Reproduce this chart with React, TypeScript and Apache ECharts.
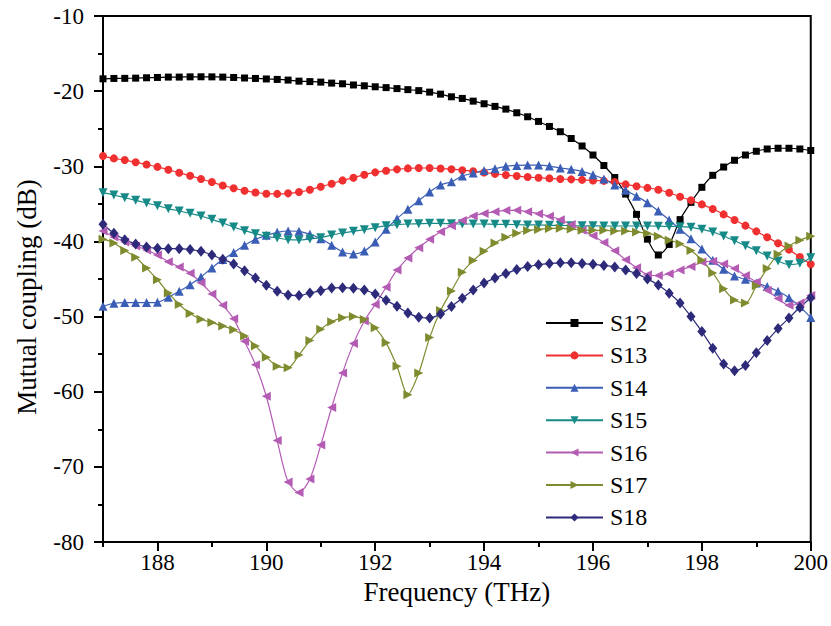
import React, { useEffect, useRef } from "react";
import * as echarts from "echarts";

const freq = [
  187, 187.2, 187.4, 187.6, 187.8, 188, 188.2, 188.4, 188.6, 188.8,
  189, 189.2, 189.4, 189.6, 189.8, 190, 190.2, 190.4, 190.6, 190.8,
  191, 191.2, 191.4, 191.6, 191.8, 192, 192.2, 192.4, 192.6, 192.8,
  193, 193.2, 193.4, 193.6, 193.8, 194, 194.2, 194.4, 194.6, 194.8,
  195, 195.2, 195.4, 195.6, 195.8, 196, 196.2, 196.4, 196.6, 196.8,
  197, 197.2, 197.4, 197.6, 197.8, 198, 198.2, 198.4, 198.6, 198.8,
  199, 199.2, 199.4, 199.6, 199.8, 200,
];

const s12 = [
  -18.36, -18.31, -18.3, -18.27, -18.22, -18.18, -18.13, -18.13, -18.1, -18.09,
  -18.1, -18.13, -18.18, -18.25, -18.31, -18.38, -18.44, -18.53, -18.67, -18.73,
  -18.8, -18.93, -19.02, -19.18, -19.29, -19.42, -19.53, -19.66, -19.8, -19.93,
  -20.13, -20.4, -20.75, -20.97, -21.33, -21.68, -22.03, -22.39, -22.88, -23.41,
  -24.03, -24.7, -25.4, -26.3, -27.3, -28.5, -29.9, -31.5, -33.7, -36.4,
  -39.7, -41.8, -40.4, -37.1, -34.8, -32.8, -31.2, -30.1, -29.2, -28.5,
  -28.0, -27.7, -27.6, -27.6, -27.7, -27.9,
];

const s13 = [
  -28.64, -28.95, -29.17, -29.46, -29.77, -30.08, -30.46, -30.86, -31.25, -31.7,
  -32.1, -32.56, -32.92, -33.25, -33.49, -33.65, -33.67, -33.6, -33.43, -33.12,
  -32.72, -32.32, -31.88, -31.52, -31.12, -30.81, -30.59, -30.41, -30.28, -30.23,
  -30.23, -30.3, -30.39, -30.52, -30.66, -30.83, -31.01, -31.17, -31.3, -31.43,
  -31.52, -31.61, -31.7, -31.74, -31.81, -31.9, -31.94, -32.1, -32.41, -32.65,
  -32.87, -33.12, -33.52, -34.05, -34.53, -35.07, -35.69, -36.4, -37.15, -37.9,
  -38.66, -39.45, -40.25, -41.09, -42.07, -43.04,
];

const s14 = [
  -48.63, -48.23, -48.14, -48.14, -48.14, -48.1, -47.43, -46.63, -45.75, -44.73,
  -43.53, -42.42, -41.49, -40.52, -39.72, -39.19, -38.79, -38.61, -38.66, -39.05,
  -39.63, -40.5, -41.4, -41.67, -41.27, -40.07, -38.39, -36.97, -35.73, -34.58,
  -33.42, -32.49, -32.05, -31.3, -30.9, -30.55, -30.32, -30.01, -29.88, -29.84,
  -29.84, -29.97, -30.23, -30.41, -30.68, -31.12, -31.7, -32.5, -33.2, -34.0,
  -34.85, -35.95, -37.15, -38.39, -39.63, -41.0, -42.51, -43.71, -44.6, -45.04,
  -45.53, -46.01, -46.63, -47.48, -48.67, -50.14,
];

const s15 = [
  -33.51, -33.82, -34.18, -34.53, -34.89, -35.24, -35.64, -35.95, -36.26, -36.62,
  -37.06, -37.55, -38.08, -38.57, -38.97, -39.32, -39.54, -39.76, -39.81, -39.67,
  -39.5, -39.15, -38.88, -38.65, -38.43, -38.17, -37.9, -37.77, -37.68, -37.64,
  -37.59, -37.59, -37.64, -37.68, -37.68, -37.68, -37.72, -37.72, -37.77, -37.81,
  -37.81, -37.86, -37.86, -37.9, -37.92, -37.93, -37.95, -37.95, -37.95, -37.95,
  -37.95, -37.97, -38.0, -38.03, -38.12, -38.39, -38.74, -39.28, -39.9, -40.56,
  -41.23, -41.93, -42.6, -43.09, -42.91, -42.16,
];

const s16 = [
  -38.6, -39.4, -40.07, -40.6, -41.14, -41.8, -42.69, -43.4, -44.24, -45.5,
  -47.0, -48.5, -50.3, -53.3, -56.4, -60.6, -66.5, -72.0, -73.4, -71.6,
  -67.1, -62.1, -57.5, -53.6, -50.6, -48.4, -46.1, -43.8, -42.2, -40.85,
  -39.7, -38.7, -37.9, -37.2, -36.6, -36.27, -36.05, -35.87, -35.86, -36.04,
  -36.3, -36.65, -37.1, -37.75, -38.5, -39.25, -40.15, -41.25, -42.45, -43.5,
  -44.43, -44.55, -44.3, -43.8, -43.35, -42.75, -42.65, -43.0, -43.6, -44.55,
  -45.4, -46.5, -47.6, -48.5, -48.2, -47.2,
];

const s17 = [
  -39.7, -40.2, -41.2, -42.1, -43.55, -45.1, -46.85, -48.4, -49.6, -50.35,
  -50.8, -51.25, -51.75, -52.6, -53.9, -55.4, -56.6, -56.8, -55.1, -53.2,
  -51.7, -50.7, -50.15, -50.0, -50.4, -51.5, -53.5, -56.6, -60.4, -57.5,
  -52.8, -49.2, -46.6, -44.1, -42.55, -41.3, -40.2, -39.45, -38.9, -38.55,
  -38.4, -38.27, -38.26, -38.35, -38.5, -38.52, -38.52, -38.6, -38.62, -38.75,
  -38.9, -39.3, -39.85, -40.3, -41.2, -42.5, -44.2, -46.3, -47.8, -48.2,
  -45.9, -43.6, -41.7, -40.6, -39.85, -39.3,
];

const s18 = [
  -37.72, -38.92, -39.76, -40.34, -40.74, -40.92, -40.96, -40.96, -41.09, -41.31,
  -41.8, -42.38, -43.0, -43.89, -44.86, -45.84, -46.63, -47.12, -47.21, -46.86,
  -46.55, -46.2, -46.15, -46.23, -46.46, -46.99, -47.83, -48.63, -49.51, -50.09,
  -50.18, -49.65, -48.67, -47.56, -46.46, -45.53, -44.86, -44.28, -43.75, -43.35,
  -43.1, -42.95, -42.85, -42.85, -42.95, -43.05, -43.2, -43.4, -43.8, -44.28,
  -45.0, -45.8, -46.9, -48.2, -50.0, -52.0, -54.2, -56.3, -57.2, -56.5,
  -54.8, -53.2, -51.6, -50.2, -48.8, -47.5,
];

const seriesNames = ["S12", "S13", "S14", "S15", "S16", "S17", "S18"];
const seriesValues = [s12, s13, s14, s15, s16, s17, s18];
const seriesColors = ["#000000", "#F03030", "#3A5DB5", "#168A87", "#B45CB4", "#7F8B2E", "#2D2A7A"];
const seriesSymbols = ["rect", "circle", "triangle", "triangle", "triangle", "triangle", "diamond"];
const seriesRotate = [0, 0, 0, 180, 90, -90, 0];
const seriesSymbolSize: (number | number[])[] = [7, 8, 9, 9, 9, 9, [9, 11]];

const majorTicks = [188, 190, 192, 194, 196, 198, 200];

const FONT = "'Liberation Serif', 'Times New Roman', serif";

export default function App() {
  const ref = useRef<HTMLDivElement>(null);

  useEffect(() => {
    if (!ref.current) return;
    const chart = echarts.init(ref.current, undefined, { renderer: "svg" });

    const series = seriesNames.map((name, i) => ({
      name,
      type: "line",
      xAxisIndex: 0,
      yAxisIndex: 0,
      data: freq.map((f, j) => [f, seriesValues[i][j]]),
      symbol: seriesSymbols[i],
      symbolRotate: seriesRotate[i],
      symbolSize: seriesSymbolSize[i],
      showAllSymbol: true,
      smooth: 0.3,
      itemStyle: { color: seriesColors[i] },
      lineStyle: { color: seriesColors[i], width: 1.2 },
      emphasis: { disabled: true },
    }));

    chart.setOption({
      animation: false,
      backgroundColor: "#ffffff",
      grid: {
        left: 103,
        right: 20,
        top: 16,
        bottom: 84,
        show: true,
        borderColor: "#000",
        borderWidth: 2,
        containLabel: false,
      },
      legend: {
        orient: "vertical",
        left: 540,
        top: 306,
        itemWidth: 57,
        itemHeight: 10,
        itemGap: 8.4,
        data: seriesNames,
        textStyle: { fontSize: 24, fontFamily: FONT, color: "#000", padding: [0, 0, 0, 2] },
      },
      xAxis: [
        {
          type: "value",
          min: 187,
          max: 200,
          interval: 1,
          axisLine: { show: true, onZero: false, lineStyle: { color: "#000", width: 2 } },
          axisTick: { show: true, inside: false, length: 5, lineStyle: { color: "#000", width: 2 } },
          axisLabel: { show: false },
          splitLine: { show: false },
        },
        {
          type: "value",
          min: 187,
          max: 200,
          position: "bottom",
          axisLine: { show: false, onZero: false },
          axisTick: {
            show: true,
            inside: false,
            length: 9,
            customValues: majorTicks,
            lineStyle: { color: "#000", width: 2 },
          },
          axisLabel: {
            show: true,
            customValues: majorTicks,
            fontSize: 23,
            fontFamily: FONT,
            color: "#000",
            margin: 9,
          },
          splitLine: { show: false },
          name: "Frequency (THz)",
          nameLocation: "middle",
          nameGap: 35,
          nameTextStyle: { fontSize: 27, fontFamily: FONT, color: "#000" },
        },
      ],
      yAxis: {
        type: "value",
        min: -80,
        max: -10,
        interval: 10,
        axisLine: { show: true, onZero: false, lineStyle: { color: "#000", width: 2 } },
        axisTick: { show: true, inside: false, length: 9, lineStyle: { color: "#000", width: 2 } },
        minorTick: { show: true, splitNumber: 2, length: 5, lineStyle: { color: "#000", width: 2 } },
        axisLabel: { fontSize: 23, fontFamily: FONT, color: "#000", margin: 19 },
        splitLine: { show: false },
        minorSplitLine: { show: false },
      },
      graphic: [
        {
          type: "text",
          x: 27,
          y: 297,
          rotation: Math.PI / 2,
          style: {
            text: "Mutual coupling (dB)",
            font: `27px ${FONT}`,
            fill: "#000",
            textAlign: "center",
            textVerticalAlign: "middle",
          },
        },
      ],
      series,
    });

    return () => chart.dispose();
  }, []);

  return (
    <div
      ref={ref}
      style={{ position: "fixed", left: 0, top: 0, width: 831, height: 626, background: "#fff" }}
    />
  );
}
